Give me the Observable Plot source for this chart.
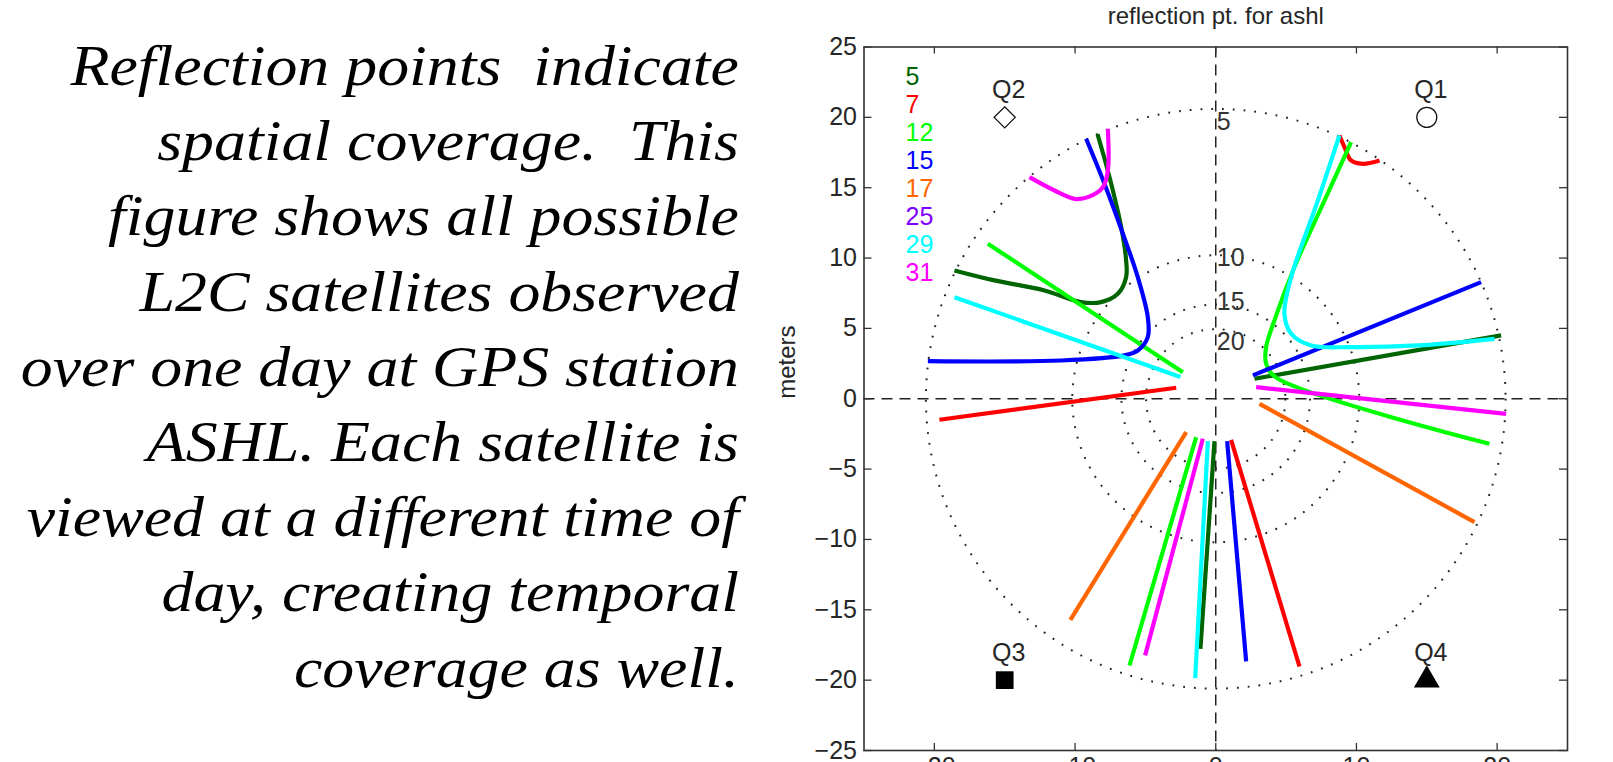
<!DOCTYPE html>
<html><head><meta charset="utf-8">
<script src="https://cdn.jsdelivr.net/npm/d3@7"></script>
<script src="https://cdn.jsdelivr.net/npm/@observablehq/plot@0.6"></script>
<style>
html,body{margin:0;padding:0;background:#fff;overflow:hidden;}
#para{position:absolute;right:874px;top:29px;font-family:"Liberation Serif","Times New Roman",serif;font-style:italic;font-size:56px;line-height:75.2px;text-align:right;white-space:pre;transform:scaleX(1.14);transform-origin:right top;color:#000;}
#chart{position:absolute;left:0;top:0;}
</style></head><body>
<div id="para"></div>
<div id="chart"></div>
<script>
// ---------- data ----------
const paragraphLines = [
  "Reflection points  indicate",
  "spatial coverage.  This",
  "figure shows all possible",
  "L2C satellites observed",
  "over one day at GPS station",
  "ASHL. Each satellite is",
  "viewed at a different time of",
  "day, creating temporal",
  "coverage as well."
];
const titleText = "reflection pt. for ashl";
const yLabel = "meters";
const satellites = [5, 7, 12, 15, 17, 25, 29, 31];
const satColors = ["#006400", "#ff0000", "#00ff00", "#0000ff", "#ff6600", "#8000ff", "#00ffff", "#ff00ff"];
const xTicks = [-20, -10, 0, 10, 20];
const yTicks = [-25, -20, -15, -10, -5, 0, 5, 10, 15, 20, 25];
// elevation rings (deg), their radius in meters, and where their labels sit (m)
const ringElev = [5, 10, 15, 20];
const ringRadius = [20.6, 10.2, 6.7, 4.95];
const ringLabelY = [19.7, 10.0, 6.9, 4.0];
// quadrant markers
const quadNames = ["Q1", "Q2", "Q3", "Q4"];
const quadX = [15, -15, -15, 15];
const quadY = [20, 20, -20, -20];

// reflection point tracks [x, y] in meters
const trk5_nw = [[-8.4,18.8],[-7.55,15.75],[-6.72,12.2],[-6.37,9.83],[-6.37,8.64],[-6.96,7.46],[-8.15,6.87],[-9.57,6.87],[-12.17,7.7],[-15.73,8.41],[-18.57,9.12]];
const trk5_ne = [[2.75,1.42],[20.28,4.5]];
const trk5_s  = [[-0.09,-3.01],[-1.09,-17.77]];
const trk7_w  = [[-19.64,-1.49],[-2.81,0.78]];
const trk7_ne = [[8.79,18.71],[9.15,17.88],[9.62,16.94],[10.45,16.7],[11.64,16.94]];
const trk7_s  = [[1.09,-2.92],[5.95,-19.03]];
const trk12_nw = [[-16.2,11.02],[-2.34,1.89]];
const trk12_ne = [[9.62,18.24],[7.73,14.09],[5.59,9.35],[4.17,5.57],[3.58,3.67],[3.58,2.49],[4.3,1.5],[19.45,-3.2]];
const trk12_s  = [[-1.39,-2.73],[-6.13,-18.96]];
const trk15_nw = [[-9.21,18.48],[-7.91,15.28],[-6.6,11.73],[-5.54,8.64],[-4.83,5.8],[-4.83,4.38],[-5.54,3.43],[-6.49,3.08],[-10.99,2.72],[-20.46,2.67]];
const trk15_ne = [[2.64,1.66],[18.86,8.29]];
const trk15_s  = [[0.81,-3.01],[2.16,-18.67]];
const trk17_se = [[3.11,-0.36],[18.39,-8.77]];
const trk17_s  = [[-2.1,-2.37],[-10.33,-15.71]];
const trk29_nw = [[-18.57,7.22],[-2.51,1.54]];
const trk29_ne = [[8.79,18.71],[7.26,14.09],[5.36,8.64],[4.88,6.04],[5.36,4.62],[6.78,3.79],[9.62,3.67],[14.36,3.79],[19.81,4.26]];
const trk29_s  = [[-0.56,-3.01],[-1.46,-19.86]];
const trk31_nw = [[-7.67,19.19],[-7.67,16.2],[-8.02,15.04],[-9.09,14.33],[-10.04,14.21],[-11.46,14.8],[-13.24,15.75]];
const trk31_e  = [[2.87,0.82],[20.64,-1.07]];
const trk31_s  = [[-0.92,-2.84],[-5.02,-18.24]];

const tracks = [
  {sat: 5, pts: trk5_nw}, {sat: 5, pts: trk5_ne}, {sat: 5, pts: trk5_s},
  {sat: 7, pts: trk7_w}, {sat: 7, pts: trk7_ne}, {sat: 7, pts: trk7_s},
  {sat: 12, pts: trk12_nw}, {sat: 12, pts: trk12_ne}, {sat: 12, pts: trk12_s},
  {sat: 15, pts: trk15_nw}, {sat: 15, pts: trk15_ne}, {sat: 15, pts: trk15_s},
  {sat: 17, pts: trk17_se}, {sat: 17, pts: trk17_s},
  {sat: 29, pts: trk29_nw}, {sat: 29, pts: trk29_ne}, {sat: 29, pts: trk29_s},
  {sat: 31, pts: trk31_nw}, {sat: 31, pts: trk31_e}, {sat: 31, pts: trk31_s}
];

// ---------- build ----------
document.getElementById("para").textContent = paragraphLines.join("\n");

const rows = [];
tracks.forEach((t, i) => t.pts.forEach(([x, y]) => rows.push({sat: t.sat, id: i, x, y})));
const rings = ringElev.map((e, i) => ({elev: String(e), r: ringRadius[i], ly: ringLabelY[i]}));
const quads = quadNames.map((n, i) => ({name: n, x: quadX[i], y: quadY[i]}));

const W = 1613, H = 800;
const mL = 863.5, mR = 46, mT = 46.5, mB = 50;
const pw = W - mL - mR, ph = H - mT - mB;
const pxPerUnit = pw / 50;
const ink = "#262626";

const legendMarks = satellites.map((s, i) =>
  Plot.text([String(s)], {frameAnchor: "top-left", dx: 41.5, dy: 30.2 + i * 27.9,
    textAnchor: "start", lineAnchor: "middle", fontSize: 25, fill: satColors[i]}));

const chart = Plot.plot({
  width: W, height: H,
  marginLeft: mL, marginRight: mR, marginTop: mT, marginBottom: mB,
  style: {fontFamily: "'Liberation Sans', Arial, sans-serif", fontSize: "25px", color: ink, background: "transparent", overflow: "visible"},
  x: {domain: [-25, 25]},
  y: {domain: [-25, 25]},
  r: {type: "linear", domain: [0, 25], range: [0, 25 * pxPerUnit]},
  color: {type: "ordinal", domain: satellites, range: satColors},
  marks: [
    Plot.ruleX([0], {stroke: "#222", strokeWidth: 1.5, strokeDasharray: "11,7"}),
    Plot.ruleY([0], {stroke: "#222", strokeWidth: 1.5, strokeDasharray: "11,7"}),
    Plot.dot(rings, {x: 0, y: 0, r: "r", stroke: "#222", fill: "none", strokeWidth: 2, strokeDasharray: "1.8,9"}),
    Plot.text(rings, {x: 0, y: "ly", text: "elev", textAnchor: "start", dx: 1, fontSize: 25, fill: "#333"}),
    Plot.line(rows, {x: "x", y: "y", z: "id", stroke: "sat", strokeWidth: 4.2, curve: "catmull-rom", strokeLinejoin: "round", strokeLinecap: "butt"}),
    Plot.dot(quads.slice(0, 1), {x: "x", y: "y", symbol: "circle", r: 10, stroke: "#111", fill: "none", strokeWidth: 1.3}),
    Plot.dot(quads.slice(1, 2), {x: "x", y: "y", symbol: "diamond2", r: 9.5, stroke: "#111", fill: "none", strokeWidth: 1.3}),
    Plot.dot(quads.slice(2, 3), {x: "x", y: "y", symbol: "square", r: 10, fill: "#000", stroke: "none"}),
    Plot.dot(quads.slice(3, 4), {x: "x", y: "y", symbol: "triangle", r: 9.6, fill: "#000", stroke: "none"}),
    Plot.text(quads, {x: "x", y: "y", text: "name", dy: -27, dx: 4, fontSize: 25, fill: ink}),
    ...legendMarks,
    Plot.frame({stroke: "#333", strokeWidth: 1.6}),
    Plot.tickY(yTicks, {y: d => d, insetRight: pw - 8, stroke: "#333", strokeWidth: 1.3}),
    Plot.tickY(yTicks, {y: d => d, insetLeft: pw - 8, stroke: "#333", strokeWidth: 1.3}),
    Plot.tickX(xTicks, {x: d => d, insetBottom: ph - 7, stroke: "#333", strokeWidth: 1.3}),
    Plot.tickX(xTicks, {x: d => d, insetTop: ph - 7, stroke: "#333", strokeWidth: 1.3}),
    Plot.axisY({ticks: yTicks, tickSize: 0, tickPadding: 7, fontSize: 25, label: null, fill: ink}),
    Plot.axisX({ticks: xTicks, tickSize: 0, tickPadding: 7, fontSize: 25, label: null, fill: ink}),
    Plot.text([titleText], {frameAnchor: "top", dy: -31, lineAnchor: "middle", fontSize: 24, fill: ink}),
    Plot.text([yLabel], {frameAnchor: "left", dx: -77, rotate: -90, lineAnchor: "middle", fontSize: 24, fill: ink})
  ]
});
document.getElementById("chart").appendChild(chart);
</script>
</body></html>
